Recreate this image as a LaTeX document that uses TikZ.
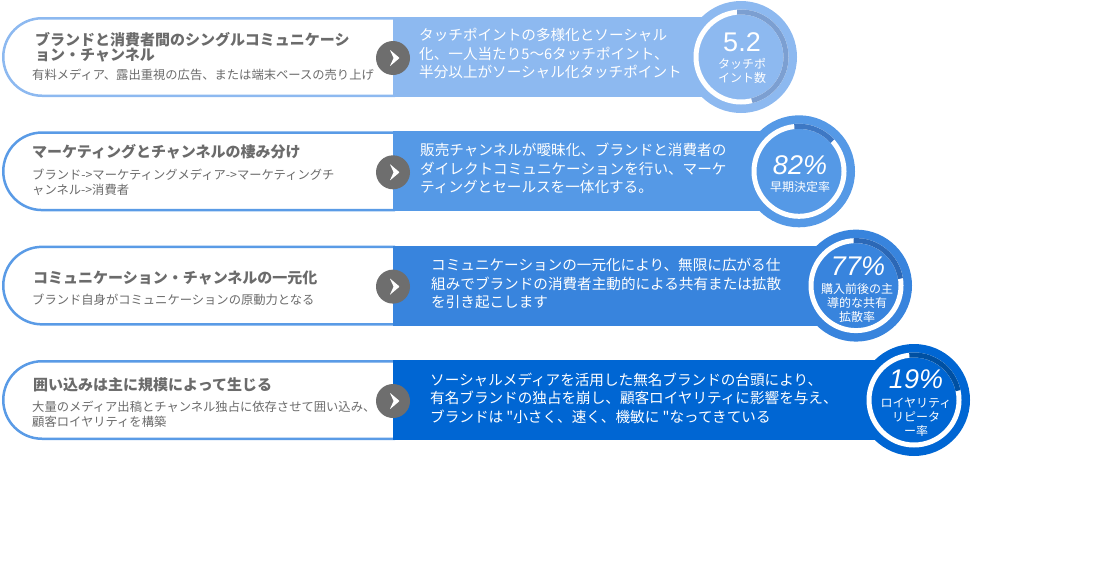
\documentclass[tikz,border=0pt]{standalone}
\usepackage{fontspec}
\usepackage{tikz}
\newfontfamily\jpfont{Noto Sans CJK JP}
\newfontfamily\numfont{Liberation Sans}

\definecolor{bandA}{HTML}{8DB9F0}
\definecolor{arcA}{HTML}{7C9FD1}
\definecolor{bandB}{HTML}{5599E6}
\definecolor{arcB}{HTML}{3E78C4}
\definecolor{bandC}{HTML}{3884DD}
\definecolor{arcC}{HTML}{2C68B6}
\definecolor{bandD}{HTML}{0066D3}
\definecolor{arcD}{HTML}{0050A2}
\definecolor{edgeB}{HTML}{5A9BE6}
\definecolor{txtgray}{HTML}{6B6B6B}
\definecolor{btngray}{HTML}{6E6E6E}

\tikzset{
    pill/.style={line width=2.5pt, fill=white},
    ring/.style={line width=5pt},
    btn/.style={circle, fill=btngray, minimum size=34pt, inner sep=0pt,
        path picture={\fill[white, rounded corners=0.6pt]
            ([shift={(-3.2pt,8.3pt)}]path picture bounding box.center) --
            ([shift={(6.6pt,0pt)}]path picture bounding box.center) --
            ([shift={(-3.2pt,-8.3pt)}]path picture bounding box.center) --
            ([shift={(0.6pt,0pt)}]path picture bounding box.center) -- cycle;}},
    ttl/.style={anchor=west, align=left, inner sep=0pt, text=txtgray,
        font=\jpfont\bfseries\fontsize{15}{15}\selectfont},
    sub/.style={anchor=west, align=left, inner sep=0pt, text=txtgray,
        font=\jpfont\fontsize{12.3}{15}\selectfont},
    txt/.style={anchor=west, align=left, inner sep=0pt, text=white,
        font=\jpfont\fontsize{14.6}{18.5}\selectfont},
    num/.style={inner sep=0pt, text=white, font=\numfont\fontsize{27}{27}\selectfont},
    lbl/.style={align=center, inner sep=0pt, text=white,
        font=\jpfont\fontsize{12}{14}\selectfont},
}

\begin{document}
\begin{tikzpicture}[x=1pt, y=1pt]
    \useasboundingbox (0,0) rectangle (1107,-573);

    % Row 1: touch points
    \begin{scope}
        \draw[pill, draw=bandA] (395,-18.25) -- (42,-18.25) arc[start angle=90, end angle=270, radius=38.75] -- (395,-95.75);
        \fill[bandA] (393,-17) rectangle (741,-97);
        \fill[bandA] (741,-57) circle[radius=56];
        \draw[ring, white] (741,-57) circle[radius=45];
        \draw[ring, arcA] (741,-57) ++(95:45) arc[start angle=95, end angle=-76, radius=45];
        \node[btn] (btnA) at (393,-58) {};
        \node[ttl] (ttlA) at (35,-47) {ブランドと消費者間のシングルコミュニケーシ\\ョン・チャンネル};
        \node[sub] (subA) at (32,-75) {有料メディア、露出重視の広告、または端末ベースの売り上げ};
        \node[txt] (txtA) at (419,-53.5) {タッチポイントの多様化とソーシャル\\化、一人当たり5〜6タッチポイント、\\半分以上がソーシャル化タッチポイント};
        \node[num] (numA) at (742,-42) {5.2};
        \node[lbl] (lblA) at (742,-71) {タッチポ\\イント数};
    \end{scope}

    % Row 2: channel split
    \begin{scope}[yshift=-114.3pt]
        \draw[pill, draw=edgeB] (395,-18.25) -- (42,-18.25) arc[start angle=90, end angle=270, radius=38.75] -- (395,-95.75);
        \fill[bandB] (393,-17) rectangle (799,-97);
        \fill[bandB] (799,-57) circle[radius=56];
        \draw[ring, white] (799,-57) circle[radius=45];
        \draw[ring, arcB] (799,-57) ++(96:45) arc[start angle=96, end angle=42, radius=45];
        \node[btn] (btnB) at (393,-58) {};
        \node[ttl] (ttlB) at (32,-37) {マーケティングとチャンネルの棲み分け};
        \node[sub] (subB) at (32,-68) {ブランド->マーケティングメディア->マーケティングチ\\ャンネル->消費者};
        \node[txt] (txtB) at (420,-54.5) {販売チャンネルが曖昧化、ブランドと消費者の\\ダイレクトコミュニケーションを行い、マーケ\\ティングとセールスを一体化する。};
        \node[num] (numB) at (800,-51) {\itshape 82\%};
        \node[lbl] (lblB) at (800,-73) {早期決定率};
    \end{scope}

    % Row 3: one channel
    \begin{scope}[yshift=-228.6pt]
        \draw[pill, draw=edgeB] (395,-18.25) -- (42,-18.25) arc[start angle=90, end angle=270, radius=38.75] -- (395,-95.75);
        \fill[bandC] (393,-17) rectangle (856,-97);
        \fill[bandC] (856,-57) circle[radius=56];
        \draw[ring, white] (856,-57) circle[radius=45];
        \draw[ring, arcC] (856,-57) ++(93:45) arc[start angle=93, end angle=9, radius=45];
        \node[btn] (btnC) at (393,-58) {};
        \node[ttl] (ttlC) at (33,-49.5) {コミュニケーション・チャンネルの一元化};
        \node[sub] (subC) at (32,-71.5) {ブランド自身がコミュニケーションの原動力となる};
        \node[txt] (txtC) at (431,-55) {コミュニケーションの一元化により、無限に広がる仕\\組みでブランドの消費者主動的による共有または拡散\\を引き起こします};
        \node[num] (numC) at (858,-38) {\itshape 77\%};
        \node[lbl] (lblC) at (857,-74.5) {購入前後の主\\導的な共有\\拡散率};
    \end{scope}

    % Row 4: lock-in by scale
    \begin{scope}[yshift=-343pt]
        \draw[pill, draw=edgeB] (395,-18.25) -- (42,-18.25) arc[start angle=90, end angle=270, radius=38.75] -- (395,-95.75);
        \fill[bandD] (393,-17) rectangle (914,-97);
        \fill[bandD] (914,-57) circle[radius=56];
        \draw[ring, white] (914,-57) circle[radius=45];
        \draw[ring, arcD] (914,-57) ++(96:45) arc[start angle=96, end angle=12, radius=45];
        \node[btn] (btnD) at (393,-58) {};
        \node[ttl] (ttlD) at (33,-42) {囲い込みは主に規模によって生じる};
        \node[sub] (subD) at (32,-71.5) {大量のメディア出稿とチャンネル独占に依存させて囲い込み、\\顧客ロイヤリティを構築};
        \node[txt] (txtD) at (430,-55) {ソーシャルメディアを活用した無名ブランドの台頭により、\\有名ブランドの独占を崩し、顧客ロイヤリティに影響を与え、\\ブランドは "小さく、速く、機敏に "なってきている};
        \node[num] (numD) at (916,-36) {\itshape 19\%};
        \node[lbl] (lblD) at (916,-74) {ロイヤリティ\\リピータ\\ー率};
    \end{scope}
\end{tikzpicture}
\end{document}
